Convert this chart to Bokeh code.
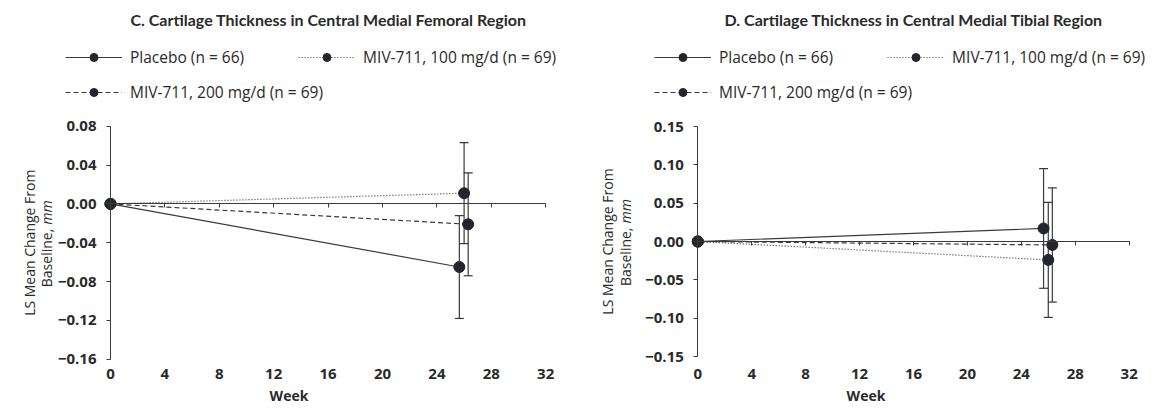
import math
from bokeh.plotting import figure
from bokeh.layouts import row
from bokeh.models import (Range1d, LinearAxis, FixedTicker, Legend, LegendItem,
                          Whisker, ColumnDataSource, TeeHead, Label)
from bokeh.embed import file_html
from bokeh.resources import INLINE

# ---------------- data ----------------
weeks = [0, 26]
series_names = ["Placebo (n = 66)", "MIV-711, 100 mg/d (n = 69)", "MIV-711, 200 mg/d (n = 69)"]
xticks = [0, 4, 8, 12, 16, 20, 24, 28, 32]
ylabel_line1 = "LS Mean Change From"
ylabel_line2 = "Baseline,"
ylabel_unit = "mm"
xlabel = "Week"

# Panel C
title_c = "C. Cartilage Thickness in Central Medial Femoral Region"
placebo_c = [0.0, -0.065]
mg100_c = [0.0, 0.011]
mg200_c = [0.0, -0.021]
err_c = [0.053, 0.052, 0.053]
yticks_c = [0.08, 0.04, 0.0, -0.04, -0.08, -0.12, -0.16]

# Panel D
title_d = "D. Cartilage Thickness in Central Medial Tibial Region"
placebo_d = [0.0, 0.017]
mg100_d = [0.0, -0.024]
mg200_d = [0.0, -0.0045]
err_d = [0.078, 0.075, 0.0745]
yticks_d = [0.15, 0.10, 0.05, 0.0, -0.05, -0.10, -0.15]

# ---------------- style / layout ----------------
TEXT = "#2a2a2a"
LINE = "#3a3a3a"
MARK = "#23262d"
FONT = "Open Sans"
TFONT = "Lato"
dashes = ["solid", "1 2", "5 3"]
dodge = [-0.35, 0.0, 0.3]
W, H = 577, 408
BOTTOM_PX = 366  # pixel row (from top) of the x tick-label axis
TITLE_Y = 19
ROW1_Y = 58
ROW2_Y = 93


def fmt(v):
    s = f"{v:.2f}"
    return s.replace("-", "\u2212")


def make_panel(title, series, errs, yticks, axis_px, px_per_week, top_tick_px, px_per_unit,
               title_x, leg_x, leg_spacing, glyph_w, standoff, ylab_x1, ylab_x2):
    x0 = -axis_px / px_per_week
    x1 = (W - axis_px) / px_per_week
    ytop = yticks[0] + top_tick_px / px_per_unit
    ybot = yticks[0] - (H - top_tick_px) / px_per_unit
    y_bottom_axis = yticks[0] - (BOTTOM_PX - top_tick_px) / px_per_unit

    p = figure(width=W, height=H, output_backend="svg", toolbar_location=None,
               x_range=Range1d(x0, x1), y_range=Range1d(ybot, ytop),
               frame_width=W, frame_height=H,
               min_border=0, x_axis_type=None, y_axis_type=None)
    p.outline_line_color = None
    p.xgrid.visible = False
    p.ygrid.visible = False
    p.background_fill_color = "white"
    p.border_fill_color = "white"

    # y axis at x = 0
    yax = LinearAxis(fixed_location=0, bounds=(yticks[-1], yticks[0]),
                     ticker=FixedTicker(ticks=yticks),
                     major_label_overrides={v: fmt(v) for v in yticks})
    yax.axis_line_color = LINE
    yax.major_tick_line_color = LINE
    yax.major_tick_out = 4
    yax.major_tick_in = 0
    yax.minor_tick_line_color = None
    yax.major_label_text_font = FONT
    yax.major_label_text_font_style = "bold"
    yax.major_label_text_font_size = "15px"
    yax.major_label_text_color = TEXT
    yax.major_label_standoff = 10
    p.add_layout(yax, "left")

    # y axis title as rotated labels (unit in italics)
    yc = (yticks[0] + yticks[-1]) / 2
    lab_kw = dict(y=yc, x_units="screen", angle=math.pi / 2, text_font=FONT,
                  text_font_size="14px", text_color=TEXT, text_baseline="middle")
    p.add_layout(Label(x=ylab_x1, text=ylabel_line1, text_align="center", **lab_kw))
    p.add_layout(Label(x=ylab_x2, y_offset=14, text=ylabel_line2, text_align="right", **lab_kw))
    p.add_layout(Label(x=ylab_x2, y_offset=18, text=ylabel_unit, text_align="left",
                       text_font_style="italic", **lab_kw))

    # x axis line at y = 0
    xline = LinearAxis(fixed_location=0, bounds=(0, 32), ticker=FixedTicker(ticks=xticks))
    xline.axis_line_color = LINE
    xline.major_tick_line_color = LINE
    xline.major_tick_out = 4
    xline.major_tick_in = 0
    xline.minor_tick_line_color = None
    xline.major_label_text_font_size = "0px"
    xline.major_label_text_alpha = 0
    p.add_layout(xline, "below")

    # x tick labels at bottom
    xlab = LinearAxis(fixed_location=y_bottom_axis, ticker=FixedTicker(ticks=xticks),
                      axis_label=xlabel)
    xlab.axis_line_color = None
    xlab.major_tick_line_color = None
    xlab.minor_tick_line_color = None
    xlab.major_tick_out = 0
    xlab.major_tick_in = 0
    xlab.major_label_text_font = FONT
    xlab.major_label_text_font_style = "bold"
    xlab.major_label_text_font_size = "15px"
    xlab.major_label_text_color = TEXT
    xlab.major_label_standoff = 2
    xlab.axis_label_text_font = FONT
    xlab.axis_label_text_font_style = "bold"
    xlab.axis_label_text_font_size = "14px"
    xlab.axis_label_text_color = TEXT
    xlab.axis_label_standoff = 4
    p.add_layout(xlab, "below")

    items = []
    for vals, err, dash, dx, name in zip(series, errs, dashes, dodge, series_names):
        xs = [w + (dx if w > 0 else 0) for w in weeks]
        src = ColumnDataSource(dict(x=xs, y=vals))
        r_line = p.line("x", "y", source=src, line_color=LINE, line_width=1.2, line_dash=dash)
        wsrc = ColumnDataSource(dict(x=[xs[-1]], upper=[vals[-1] + err], lower=[vals[-1] - err]))
        wk = Whisker(source=wsrc, base="x", upper="upper", lower="lower", dimension="height",
                     line_color=LINE, line_width=1.2,
                     upper_head=TeeHead(size=9, line_color=LINE, line_width=1.2),
                     lower_head=TeeHead(size=9, line_color=LINE, line_width=1.2))
        p.add_layout(wk)
        r_pt = p.scatter("x", "y", source=src, size=11, fill_color=MARK, line_color=MARK)
        items.append(LegendItem(label=name, renderers=[r_line, r_pt]))

    common = dict(orientation="horizontal", border_line_color=None,
                  background_fill_alpha=0, padding=0, margin=0,
                  glyph_width=glyph_w, glyph_height=20, label_standoff=standoff,
                  spacing=leg_spacing, label_text_font=FONT, label_text_font_size="15.5px",
                  label_text_color=TEXT, label_height=20)
    leg1 = Legend(items=items[:2], location=(leg_x, H - ROW1_Y - 10), **common)
    leg2 = Legend(items=items[2:], location=(leg_x, H - ROW2_Y - 10), **common)
    p.add_layout(leg1, "center")
    p.add_layout(leg2, "center")

    t = Label(x=title_x, y=H - TITLE_Y, x_units="screen", y_units="screen", text=title,
              text_font=TFONT, text_font_style="bold", text_font_size="16px", text_color=TEXT,
              text_baseline="middle", text_align="left")
    p.add_layout(t)
    return p


pc = make_panel(title_c, [placebo_c, mg100_c, mg200_c], err_c, yticks_c,
                110, 13.6, 125.7, 971.0, 130, 65, 54, 57, 8, 29, 46)
pd_ = make_panel(title_d, [placebo_d, mg100_d, mg200_d], err_d, yticks_d,
                 120.3, 13.48, 126.0, 766.7, 147, 77, 54, 57, 8, 30, 48)

layout = row(pc, pd_)
open("out.html", "w").write(file_html(layout, INLINE))
